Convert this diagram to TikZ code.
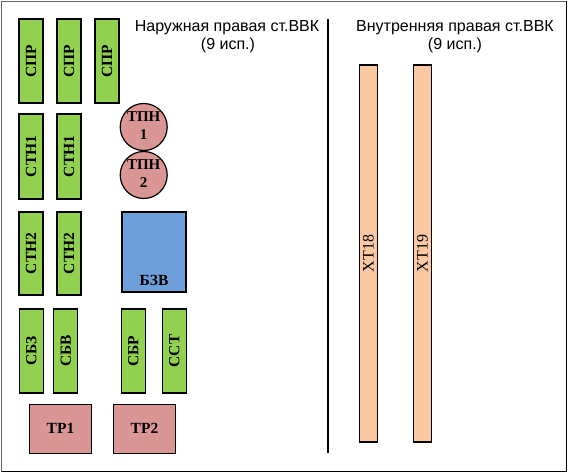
\documentclass[tikz,border=0pt]{standalone}
\usepackage{fontspec}
\setmainfont{Liberation Serif}
\newfontfamily\arialfont{Liberation Sans}
\definecolor{grn}{RGB}{146,208,80}
\definecolor{pnk}{RGB}{217,150,148}
\definecolor{blu}{RGB}{111,159,219}
\definecolor{pch}{RGB}{250,201,163}
\tikzset{
  box/.style={draw=black, line width=1.2pt, inner sep=0pt},
  gbox/.style={box, fill=grn, minimum width=24pt, minimum height=84pt},
  vlabel/.style={rotate=90, font=\fontsize{15.5}{15.5}\selectfont\bfseries},
  tlabel/.style={font=\fontsize{15.5}{15.5}\selectfont\bfseries},
  xlabel/.style={rotate=90, font=\fontsize{16}{16}\selectfont},
  circ/.style={box, circle, fill=pnk, minimum size=47pt},
  clabel/.style={align=center, font=\fontsize{15}{18}\selectfont\bfseries, yshift=1.5pt},
  trbox/.style={box, fill=pnk, minimum width=62pt, minimum height=49pt},
  xtbox/.style={box, fill=pch, minimum width=18pt, minimum height=377pt},
  title/.style={font=\arialfont\fontsize{16}{18}\selectfont, inner sep=0pt, anchor=base}
}
\begin{document}
\begin{tikzpicture}[x=1pt, y=-1pt]
\useasboundingbox (0,0) rectangle (568,473);
\draw[fill=white, draw=gray!80!black, line width=1.6pt] (1.5,1.5) rectangle (566.5,471.5);
\draw[line width=1.2pt] (566.5,1.5) -- (566.5,471.5) -- (1.5,471.5);
% divider
\coordinate (dtop) at (328,19);
\coordinate (dbot) at (328,453);
\draw[line width=1.2pt] (dtop) -- (dbot);
% titles
\node[title] (t1a) at (227,31.5) {Наружная правая ст.ВВК};
\node[title] (t1b) at (228,50) {(9 исп.)};
\node[title] (t2a) at (455,31.5) {Внутренняя правая ст.ВВК};
\node[title] (t2b) at (455,50) {(9 исп.)};
% СПР
\node[gbox] (spr1) at (31,61) {}; \node[vlabel] at (spr1) {СПР};
\node[gbox] (spr2) at (69,61) {}; \node[vlabel] at (spr2) {СПР};
\node[gbox] (spr3) at (107,61) {}; \node[vlabel] at (spr3) {СПР};
% СТН1
\node[gbox, minimum height=85pt] (stn1a) at (31,156.5) {}; \node[vlabel] at (stn1a) {СТН1};
\node[gbox, minimum height=85pt] (stn1b) at (69,156.5) {}; \node[vlabel] at (stn1b) {СТН1};
% ТПН
\node[circ] (tpn1) at (143.7,127) {}; \node[clabel] at (tpn1) {ТПН\\1};
\node[circ] (tpn2) at (143.7,175) {}; \node[clabel] at (tpn2) {ТПН\\2};
% СТН2
\node[gbox, minimum height=83pt] (stn2a) at (31,253.5) {}; \node[vlabel] at (stn2a) {СТН2};
\node[gbox, minimum height=83pt] (stn2b) at (69,253.5) {}; \node[vlabel] at (stn2b) {СТН2};
% БЗВ
\node[box, fill=blu, minimum width=64pt, minimum height=80pt] (bzv) at (154,252) {};
\node[tlabel] at ([yshift=12pt]bzv.south) {БЗВ};
% row
\node[gbox] (sbz) at (31.3,351) {}; \node[vlabel] at (sbz) {СБЗ};
\node[gbox] (sbv) at (65.7,351) {}; \node[vlabel] at (sbv) {СБВ};
\node[gbox] (sbr) at (133.3,351) {}; \node[vlabel] at (sbr) {СБР};
\node[gbox] (sst) at (174.2,351) {}; \node[vlabel] at (sst) {ССТ};
% ТР
\node[trbox, tlabel] (tr1) at (60.5,428.8) {ТР1};
\node[trbox, tlabel] (tr2) at (144.5,428.8) {ТР2};
% XT
\node[xtbox] (xt18) at (368.3,253.5) {}; \node[xlabel] at (xt18) {XT18};
\node[xtbox] (xt19) at (422.3,253.5) {}; \node[xlabel] at (xt19) {XT19};
\end{tikzpicture}
\end{document}
